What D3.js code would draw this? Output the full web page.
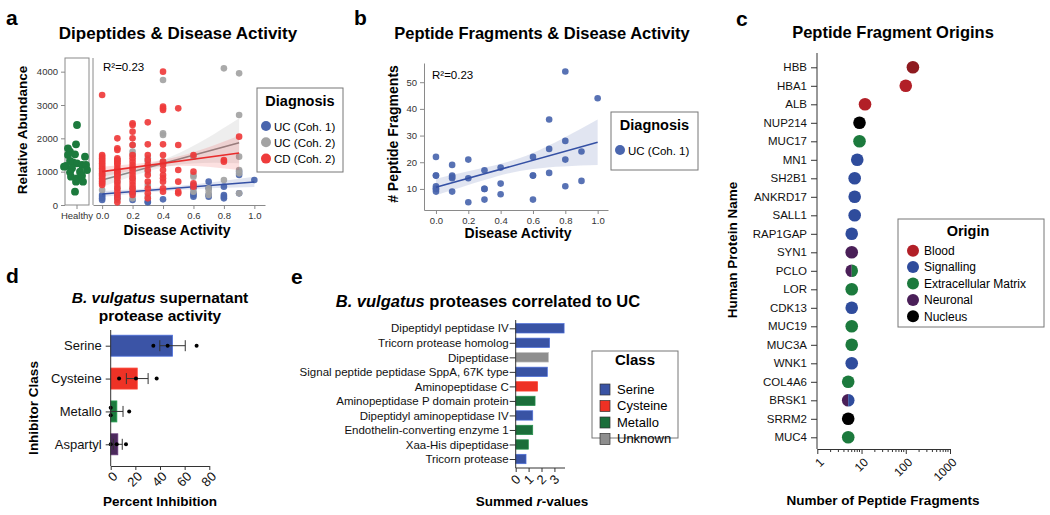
<!DOCTYPE html>
<html>
<head>
<meta charset="utf-8">
<script src="https://cdn.jsdelivr.net/npm/d3@7"></script>
<style>
body { margin: 0; background: #fff; }
text { font-family: "Liberation Sans", Arial, sans-serif; }
</style>
</head>
<body>
<svg id="fig" width="1050" height="515"></svg>
<script>
// ---------- data ----------
// panel a: abundance per disease-activity level
var levels = [0, 0.1, 0.2, 0.3, 0.4, 0.5, 0.6, 0.7, 0.8, 0.9, 1.0];
var ucCoh1 = [[300, 250, 200, 150], [300, 200], [350, 150], [100, 80], [170], [], [600, 500, 350, 300, 250], [700, 500, 300, 250], [550, 300, 250, 200], [1000, 900, 350], [750]];
var ucCoh2 = [[900, 700, 450], [1350, 1000, 700, 500, 150], [1800, 1600, 1500, 1100, 800, 500, 200], [1400, 1300, 1000, 600, 250], [3750, 2150, 2100, 1300, 1250], [], [1450, 900, 850, 400], [500, 400, 300], [4100, 750], [3950, 2700, 1450, 1050, 950, 350], []];
var cdCoh2 = [[3300, 1500, 1450, 1400, 1350, 1300, 1250, 1200, 1150, 1100, 1050, 1000, 950, 900, 850, 800, 750, 700, 650, 600],
  [2000, 1700, 1650, 1400, 1350, 1300, 1250, 1200, 1100, 1050, 1000, 950, 900, 850, 800, 700, 600, 500, 400, 300, 200, 80],
  [2450, 2400, 2200, 2000, 1800, 1500, 1400, 1300, 1200, 1100, 1000, 900, 800, 700, 600, 500, 400, 300],
  [2480, 1820, 1500, 1350, 1200, 1050, 900, 700, 500, 350, 200],
  [4000, 2950, 2900, 2850, 1820, 1500, 1300, 1200, 1050, 900, 800, 700, 500, 400],
  [2900, 1800, 1050, 700, 400, 350],
  [1500, 1000, 650, 550], [], [1350, 1300], [2050], []];
var healthyVals = [2400, 1820, 1700, 1600, 1500, 1520, 1450, 1320, 1280, 1170, 1250, 1200, 1200, 1150, 1100, 1050, 980, 1000, 850, 800, 880, 700, 700, 400];
var healthyJitter = [0, -0.1, -0.9, -0.7, -0.9, -0.2, 0.8, -0.7, -0.4, -1.1, 0, 0.5, 0.9, -1.3, -0.5, 1.0, -0.7, 0.3, -0.6, 0, 0.5, -0.1, 0.6, -0.2];
// fitted lines [x, y] and confidence bands [x, lo, hi]
var fitUC1 = [[0, 330], [1.0, 690]];
var bandUC1 = [[0, 240, 420], [0.5, 450, 570], [1.0, 540, 850]];
var fitUC2 = [[0, 750], [0.9, 1870]];
var bandUC2 = [[0, 540, 960], [0.45, 1170, 1450], [0.9, 1250, 2600]];
var fitCD = [[0, 1000], [0.9, 1560]];
var bandCD = [[0, 850, 1150], [0.45, 1170, 1400], [0.9, 1050, 2080]];

// panel b
var fragUC1 = [[22, 15, 15, 11, 10, 10, 9], [19, 15, 14.5, 14, 9], [21, 14, 5], [17, 10, 10, 6], [18, 12, 8], [], [22, 15, 15, 6], [36, 25, 16], [54, 28, 21, 11], [24, 13], [44]];
var fitFrag = [[0, 10.6], [1.0, 27.5]];
var bandFrag = [[0, 7.6, 13.8], [0.3, 13.3, 18], [0.6, 17.5, 23.5], [1.0, 19, 36]];

// panel c
var proteins = ["HBB", "HBA1", "ALB", "NUP214", "MUC17", "MN1", "SH2B1", "ANKRD17", "SALL1", "RAP1GAP", "SYN1", "PCLO", "LOR", "CDK13", "MUC19", "MUC3A", "WNK1", "COL4A6", "BRSK1", "SRRM2", "MUC4"];
var fragCounts = [145, 100, 12, 9, 9, 8, 7, 7, 7, 6, 6, 6, 6, 6, 6, 6, 6, 5, 5, 5, 5];
var proteinOrigin = ["Blood", "Blood", "Blood", "Nucleus", "Extracellular Matrix", "Signalling", "Signalling", "Signalling", "Signalling", "Signalling", "Neuronal",
  ["Neuronal", "Extracellular Matrix"], "Extracellular Matrix", "Signalling", "Extracellular Matrix", "Extracellular Matrix", "Signalling", "Extracellular Matrix",
  ["Neuronal", "Signalling"], "Nucleus", "Extracellular Matrix"];
var originNames = ["Blood", "Signalling", "Extracellular Matrix", "Neuronal", "Nucleus"];
var originColours = ["#b21f27", "#2f4c9c", "#1c7a3d", "#4a1f58", "#000000"];

// panel d
var inhibitors = ["Serine", "Cysteine", "Metallo", "Aspartyl"];
var inhibReps = [[34.6, 46.2, 69.7], [6.8, 20.5, 37.3], [0, 0, 15], [0, 4.9, 12.4]];
var inhibColours = ["#3b54a6", "#ee3226", "#1c7a3d", "#4b2a5c"];

// panel e
var proteases = ["Dipeptidyl peptidase IV", "Tricorn protease homolog", "Dipeptidase", "Signal peptide peptidase SppA, 67K type", "Aminopeptidase C", "Aminopeptidase P domain protein", "Dipeptidyl aminopeptidase IV", "Endothelin-converting enzyme 1", "Xaa-His dipeptidase", "Tricorn protease"];
var summedR = [3.75, 2.63, 2.53, 2.45, 1.70, 1.50, 1.32, 1.32, 0.98, 0.80];
var proteaseClass = ["Serine", "Serine", "Unknown", "Serine", "Cysteine", "Metallo", "Serine", "Metallo", "Metallo", "Serine"];
var classNames = ["Serine", "Cysteine", "Metallo", "Unknown"];
var classColours = ["#3953a4", "#ee3124", "#1b6e3a", "#8e8e8e"];

var diagNames = ["UC (Coh. 1)", "UC (Coh. 2)", "CD (Coh. 2)"];
var diagColours = ["#4a66ae", "#a3a3a3", "#ef3b3b"];
var diagLines = ["#3450a4", "#8a8a8a", "#e82c2c"];

var svg = d3.select("#fig");

function styleSeaborn(g) {
	g.select(".domain").attr("stroke", "#8a8a8a");
	g.selectAll(".tick line").attr("stroke", "#8a8a8a");
	g.selectAll(".tick text").attr("font-family", "DejaVu Sans").attr("font-size", "9.5px").attr("fill", "#333");
}
function stylePrism(g, size) {
	g.select(".domain").attr("stroke", "#333");
	g.selectAll(".tick line").attr("stroke", "#333");
	g.selectAll(".tick text").attr("font-size", size).attr("fill", "#111");
}
function rotateTicks(g, dx, dy) {
	g.selectAll(".tick text").attr("x", 0).attr("y", 0).attr("dy", "0.35em")
		.attr("text-anchor", "end").attr("transform", "translate(" + dx + "," + dy + ") rotate(-45)");
}
function flatten(vals) {
	var pts = [];
	vals.forEach(function(list, i) {
		list.forEach(function(v) { pts.push([levels[i], v]); });
	});
	return pts;
}
function letter(t, x, y) {
	svg.append("text").attr("x", x).attr("y", y).attr("font-size", "21px").attr("font-weight", "bold").text(t);
}
function title(x, y, t, size) {
	return svg.append("text").attr("x", x).attr("y", y).attr("text-anchor", "middle").attr("font-size", size).attr("font-weight", "bold").text(t);
}
function label(x, y, t, size, rot) {
	return svg.append("text").attr("transform", "translate(" + x + "," + y + ")" + (rot ? " rotate(-90)" : ""))
		.attr("text-anchor", "middle").attr("font-size", size).attr("font-weight", "bold").text(t);
}

function drawRegSeries(g, x, y, pts, band, fit, col, lineCol, r) {
	g.append("g").selectAll("circle").data(pts).join("circle")
		.attr("cx", function(d) { return x(d[0]); })
		.attr("cy", function(d) { return y(d[1]); })
		.attr("r", r).attr("fill", col).attr("opacity", 0.92);
	var area = d3.area().curve(d3.curveNatural)
		.x(function(d) { return x(d[0]); })
		.y0(function(d) { return y(d[1]); })
		.y1(function(d) { return y(d[2]); });
	g.append("path").datum(band).attr("d", area).attr("fill", lineCol).attr("opacity", 0.15);
	g.append("path").datum(fit).attr("d", d3.line().x(function(d) { return x(d[0]); }).y(function(d) { return y(d[1]); }))
		.attr("stroke", lineCol).attr("stroke-width", 1.6).attr("fill", "none");
}

function legendBox(x0, y0, w, h, head, names, cols, shape, fs, gap, headSize) {
	var g = svg.append("g");
	g.append("rect").attr("x", x0).attr("y", y0).attr("width", w).attr("height", h)
		.attr("fill", "#fff").attr("stroke", "#777").attr("stroke-width", 1);
	g.append("text").attr("class", "head").attr("x", x0 + w / 2).attr("y", y0 + 18).attr("text-anchor", "middle")
		.attr("font-size", headSize).attr("font-weight", "bold").text(head);
	names.forEach(function(n, i) {
		var cy = y0 + 38 + i * gap;
		if (shape == "circle") {
			g.append("circle").attr("cx", x0 + 9).attr("cy", cy).attr("r", 5).attr("fill", cols[i]);
		} else {
			g.append("rect").attr("x", x0 + 9).attr("y", cy - 5).attr("width", 10).attr("height", 11)
				.attr("fill", cols[i]).attr("stroke", "#333").attr("stroke-width", 0.7);
		}
		g.append("text").attr("class", "entry").attr("x", x0 + (shape == "circle" ? 17 : 26)).attr("y", cy + 4.5).attr("font-size", fs).text(n);
	});
	return g;
}

// ---------- panel a ----------
function drawPanelA() {
	letter("a", 6, 25);
	title(178, 39, "Dipeptides & Disease Activity", "17px");
	var g = svg.append("g");
	var y = d3.scaleLinear().domain([0, 4410]).range([205, 58]);
	var x = d3.scaleLinear().domain([-0.06, 1.07]).range([93, 265]);

	g.append("rect").attr("x", 65).attr("y", 58).attr("width", 24).attr("height", 147)
		.attr("fill", "none").attr("stroke", "#8a8a8a");
	var ya = g.append("g").attr("transform", "translate(65,0)")
		.call(d3.axisLeft(y).tickValues([0, 1000, 2000, 3000, 4000]).tickSize(4).tickPadding(3).tickFormat(d3.format("d")));
	ya.select(".domain").remove();
	styleSeaborn(ya);
	g.append("g").selectAll("circle").data(healthyVals).join("circle")
		.attr("cx", function(d, i) { return 77 + healthyJitter[i] * 10; })
		.attr("cy", function(d) { return y(d); })
		.attr("r", 3.9).attr("fill", "#1c7a3d");
	g.append("line").attr("x1", 77).attr("x2", 77).attr("y1", 205).attr("y2", 209).attr("stroke", "#8a8a8a");
	g.append("text").attr("x", 77).attr("y", 219).attr("text-anchor", "middle")
		.attr("font-family", "DejaVu Sans").attr("font-size", "9.5px").attr("fill", "#333").text("Healthy");

	var xa = g.append("g").attr("transform", "translate(0,205)")
		.call(d3.axisBottom(x).tickValues([0, 0.2, 0.4, 0.6, 0.8, 1.0]).tickSizeInner(4).tickSizeOuter(0).tickPadding(3).tickFormat(d3.format(".1f")));
	styleSeaborn(xa);
	g.append("line").attr("x1", 93).attr("x2", 93).attr("y1", 58).attr("y2", 205).attr("stroke", "#8a8a8a");

	drawRegSeries(g, x, y, flatten(ucCoh1), bandUC1, fitUC1, diagColours[0], diagLines[0], 3.3);
	drawRegSeries(g, x, y, flatten(ucCoh2), bandUC2, fitUC2, diagColours[1], diagLines[1], 3.3);
	drawRegSeries(g, x, y, flatten(cdCoh2), bandCD, fitCD, diagColours[2], diagLines[2], 3.3);

	g.append("text").attr("x", 103).attr("y", 71).attr("font-size", "11.5px").text("R²=0.23");
	label(177, 235, "Disease Activity", "14px", false);
	label(27, 130, "Relative Abundance", "13.5px", true);
	legendBox(257, 88, 86, 84, "Diagnosis", diagNames, diagColours, "circle", "11.5px", 16.3, "14.5px");
}

// ---------- panel b ----------
function drawPanelB() {
	letter("b", 354, 25);
	title(542, 39, "Peptide Fragments & Disease Activity", "16.5px");
	var g = svg.append("g");
	var y = d3.scaleLinear().domain([2.1, 57.2]).range([210, 63]);
	var x = d3.scaleLinear().domain([-0.074, 1.064]).range([424, 608]);
	var ya = g.append("g").attr("transform", "translate(424,0)")
		.call(d3.axisLeft(y).tickValues([10, 20, 30, 40, 50]).tickSizeInner(4).tickSizeOuter(0).tickPadding(3));
	styleSeaborn(ya);
	var xa = g.append("g").attr("transform", "translate(0,210)")
		.call(d3.axisBottom(x).tickValues([0, 0.2, 0.4, 0.6, 0.8, 1.0]).tickSizeInner(4).tickSizeOuter(0).tickPadding(3).tickFormat(d3.format(".1f")));
	styleSeaborn(xa);
	drawRegSeries(g, x, y, flatten(fragUC1), bandFrag, fitFrag, diagColours[0], diagLines[0], 3.3);
	g.append("text").attr("x", 432).attr("y", 79).attr("font-size", "11.5px").text("R²=0.23");
	label(518, 238, "Disease Activity", "14px", false);
	label(398, 134, "# Peptide Fragments", "14px", true);
	legendBox(611, 112, 87, 58, "Diagnosis", ["UC (Coh. 1)"], [diagColours[0]], "circle", "11.5px", 16, "14.5px");
}

// ---------- panel c ----------
function drawPanelC() {
	letter("c", 736, 26);
	title(893, 38, "Peptide Fragment Origins", "16.5px");
	var g = svg.append("g");
	var y = d3.scalePoint().domain(proteins).range([67.3, 437.3]);
	var x = d3.scaleLog().domain([1, 1000]).range([817.3, 950]);
	var ya = g.append("g").attr("transform", "translate(817,0)")
		.call(d3.axisLeft(y).tickSizeInner(6).tickSizeOuter(0).tickPadding(4));
	ya.select(".domain").attr("d", "M0,53V449");
	stylePrism(ya, "11.5px");
	var minor = [];
	[1, 10, 100].forEach(function(b) { for (var k = 2; k < 10; k++) minor.push(b * k); });
	g.append("g").selectAll("line").data(minor).join("line")
		.attr("x1", function(d) { return x(d); }).attr("x2", function(d) { return x(d); })
		.attr("y1", 449).attr("y2", 452).attr("stroke", "#333");
	var xa = g.append("g").attr("transform", "translate(0,449)")
		.call(d3.axisBottom(x).tickValues([1, 10, 100, 1000]).tickFormat(d3.format("d")).tickSizeInner(5).tickSizeOuter(0));
	stylePrism(xa, "12px");
	rotateTicks(xa, 4, 11);

	var colour = function(o) { return originColours[originNames.indexOf(o)]; };
	var arc = d3.arc().innerRadius(0).outerRadius(6.3);
	proteins.forEach(function(p, i) {
		var o = proteinOrigin[i];
		var cx = x(fragCounts[i]), cy = y(p);
		if (Array.isArray(o)) {
			g.append("path").attr("transform", "translate(" + cx + "," + cy + ")")
				.attr("d", arc({ startAngle: Math.PI, endAngle: 2 * Math.PI })).attr("fill", colour(o[0]));
			g.append("path").attr("transform", "translate(" + cx + "," + cy + ")")
				.attr("d", arc({ startAngle: 0, endAngle: Math.PI })).attr("fill", colour(o[1]));
		} else {
			g.append("circle").attr("cx", cx).attr("cy", cy).attr("r", 6.3).attr("fill", i == 0 ? "#8e1a1f" : colour(o));
		}
	});
	label(883, 505, "Number of Peptide Fragments", "13.5px", false);
	label(737, 250, "Human Protein Name", "13.5px", true);
	var lg = legendBox(898, 219, 146, 108, "Origin", originNames, originColours, "circle", "12px", 16.4, "14.5px");
	lg.selectAll("circle").attr("r", 6).attr("cx", 913).attr("cy", function(d, i) { return 250.7 + i * 16.4; });
	lg.selectAll("text.entry").attr("x", 924).attr("y", function(d, i) { return 255 + i * 16.4; });
	lg.select("text.head").attr("x", 968).attr("y", 236);
}

// ---------- panel d ----------
function drawPanelD() {
	letter("d", 6, 283);
	var t = svg.append("text").attr("x", 160).attr("y", 303).attr("text-anchor", "middle").attr("font-size", "15.5px").attr("font-weight", "bold");
	t.append("tspan").attr("font-style", "italic").text("B. vulgatus");
	t.append("tspan").text(" supernatant");
	title(160, 321, "protease activity", "15.5px");
	var g = svg.append("g");
	var y = d3.scalePoint().domain(inhibitors).range([345.7, 444.3]);
	var x = d3.scaleLinear().domain([0, 80]).range([110.7, 209.3]);
	var means = inhibReps.map(function(r) { return d3.mean(r); });
	var sems = inhibReps.map(function(r) { return d3.deviation(r) / Math.sqrt(r.length); });
	g.selectAll(".bar").data(inhibitors).join("rect")
		.attr("x", x(0)).attr("y", function(d) { return y(d) - 10.5; })
		.attr("width", function(d, i) { return x(means[i]) - x(0); }).attr("height", 21)
		.attr("fill", function(d, i) { return inhibColours[i]; })
		.attr("stroke", function(d, i) { return d3.color(inhibColours[i]).brighter(0.8); }).attr("stroke-width", 0.8);
	inhibitors.forEach(function(c, i) {
		var cy = y(c), lo = x(means[i] - sems[i]), hi = x(means[i] + sems[i]);
		g.append("line").attr("x1", lo).attr("x2", hi).attr("y1", cy).attr("y2", cy).attr("stroke", "#333");
		[lo, hi].forEach(function(px) {
			g.append("line").attr("x1", px).attr("x2", px).attr("y1", cy - 5.5).attr("y2", cy + 5.5).attr("stroke", "#333");
		});
		var seen = {};
		inhibReps[i].forEach(function(v) {
			var n = seen[v] || 0; seen[v] = n + 1;
			var dup = inhibReps[i].filter(function(w) { return w == v; }).length;
			var off = dup > 1 ? (n - (dup - 1) / 2) * 7.5 : 0;
			g.append("circle").attr("cx", x(v)).attr("cy", cy + off).attr("r", 2).attr("fill", "#000");
		});
	});
	var ya = g.append("g").attr("transform", "translate(110.7,0)")
		.call(d3.axisLeft(y).tickSizeInner(5).tickSizeOuter(0).tickPadding(4));
	ya.select(".domain").attr("d", "M0,330V466");
	stylePrism(ya, "13px");
	var xa = g.append("g").attr("transform", "translate(0,466)")
		.call(d3.axisBottom(x).tickValues([0, 20, 40, 60, 80]).tickSizeInner(4).tickSizeOuter(0));
	stylePrism(xa, "13px");
	rotateTicks(xa, 4, 8);
	label(160, 506, "Percent Inhibition", "13.5px", false);
	label(38, 408, "Inhibitor Class", "13.5px", true);
}

// ---------- panel e ----------
function drawPanelE() {
	letter("e", 291, 284);
	var t = svg.append("text").attr("x", 488).attr("y", 307).attr("text-anchor", "middle").attr("font-size", "16.5px").attr("font-weight", "bold");
	t.append("tspan").attr("font-style", "italic").text("B. vulgatus");
	t.append("tspan").text(" proteases correlated to UC");
	var g = svg.append("g");
	var y = d3.scalePoint().domain(proteases).range([328.3, 459]);
	var x = d3.scaleLinear().domain([0, 3.82]).range([515.7, 565]);
	var colour = function(c) { return classColours[classNames.indexOf(c)]; };
	g.selectAll("rect").data(proteases).join("rect")
		.attr("x", x(0)).attr("y", function(d) { return y(d) - 4.7; })
		.attr("width", function(d, i) { return x(summedR[i]) - x(0); }).attr("height", 9.4)
		.attr("fill", function(d, i) { return colour(proteaseClass[i]); })
		.attr("stroke", function(d, i) { return d3.color(colour(proteaseClass[i])).brighter(0.8); }).attr("stroke-width", 0.7);
	var ya = g.append("g").attr("transform", "translate(515.7,0)")
		.call(d3.axisLeft(y).tickSizeInner(6).tickSizeOuter(0).tickPadding(1));
	ya.select(".domain").attr("d", "M0,320V468");
	stylePrism(ya, "11.5px");
	var xa = g.append("g").attr("transform", "translate(0,468)")
		.call(d3.axisBottom(x).tickValues([0, 1, 2, 3]).tickFormat(d3.format("d")).tickSizeInner(4).tickSizeOuter(0));
	xa.select(".domain").attr("d", "M515.7,0H565");
	stylePrism(xa, "13px");
	rotateTicks(xa, 2, 9);
	var lab = svg.append("text").attr("x", 532).attr("y", 506).attr("text-anchor", "middle").attr("font-size", "13.5px").attr("font-weight", "bold");
	lab.append("tspan").text("Summed ");
	lab.append("tspan").attr("font-style", "italic").text("r");
	lab.append("tspan").text("-values");
	var lg = legendBox(592, 351, 86, 87, "Class", classNames, classColours, "rect", "13px", 16.5, "15px");
	lg.select("text.head").attr("y", 365);
	lg.selectAll("rect").filter(function(d, i) { return i > 0; }).attr("x", 600);
	lg.selectAll("text.entry").attr("x", 617);
}

drawPanelA();
drawPanelB();
drawPanelC();
drawPanelD();
drawPanelE();
</script>
</body>
</html>
